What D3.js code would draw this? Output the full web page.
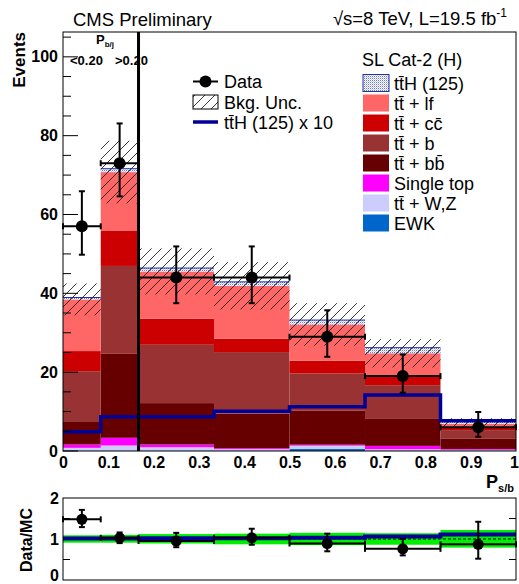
<!DOCTYPE html>
<html>
<head>
<meta charset="utf-8">
<script src="https://cdn.jsdelivr.net/npm/d3@7/dist/d3.min.js"></script>
<style>
  body { margin: 0; background: #fff; }
  svg text { font-family: "Liberation Sans", Arial, Helvetica, sans-serif; }
</style>
</head>
<body>
<svg id="chart" width="519" height="584"></svg>
<script>
// ---------------- data ----------------
const binEdges = [0, 0.0833, 0.1667, 0.3333, 0.5, 0.6667, 0.8333, 1.0];
// stacked backgrounds (bottom to top)
const ewk       = [0.1, 0.1, 0.1, 0.1, 0.5, 0.1, 0.1];
const ttVZ      = [0.7, 1.3, 0.85, 0.35, 0.85, 0.35, 0.2];
const singleTop = [0.85, 1.95, 0.7, 0.25, 0.25, 0.85, 0.2];
const ttbb      = [5.9, 21.3, 10.5, 8.8, 8.6, 7.0, 2.7];
const ttb       = [12.7, 22.3, 14.8, 15.6, 9.5, 8.4, 2.1];
const ttcc      = [5.1, 9.0, 6.6, 3.4, 3.2, 2.1, 0.9];
const ttlf      = [13.1, 14.8, 12.0, 13.4, 9.2, 6.0, 0.7];
const ttH       = [0.49, 0.87, 0.87, 1.01, 1.12, 1.42, 0.77];
const ttHx10    = [4.9, 8.7, 8.7, 10.1, 11.2, 14.2, 7.7];
// background uncertainty band (lower / upper edges)
const uncDn = [34.4, 62.8, 39.7, 35.9, 26.7, 21.2, 5.5];
const uncUp = [42.5, 78.7, 51.4, 47.9, 37.5, 28.4, 8.3];
// data
const dataVal = [57, 73, 44, 44, 29, 19, 6];
const dataHi  = [65.9, 83.1, 51.9, 51.9, 35.7, 24.5, 9.9];
const dataLo  = [49.8, 64.6, 37.5, 37.5, 23.9, 14.8, 3.6];
// ratio panel
const ratioVal = [1.48, 1.03, 0.95, 1.03, 0.89, 0.76, 0.87];
const ratioHi  = [1.71, 1.16, 1.15, 1.25, 1.13, 1.00, 1.42];
const ratioLo  = [1.29, 0.90, 0.80, 0.86, 0.70, 0.60, 0.52];
const sbRatio  = [1.01, 1.01, 1.02, 1.02, 1.03, 1.06, 1.11];
const bandLo   = [0.91, 0.91, 0.89, 0.87, 0.85, 0.86, 0.79];
const bandHi   = [1.09, 1.10, 1.12, 1.13, 1.15, 1.14, 1.22];
// ticks
const xTickLabels = ["0", "0.1", "0.2", "0.3", "0.4", "0.5", "0.6", "0.7", "0.8", "0.9", "1"];
const xTickValues = [0, 0.1, 0.2, 0.3, 0.4, 0.5, 0.6, 0.7, 0.8, 0.9, 1];
const yTicks = [0, 20, 40, 60, 80, 100];
const rTicks = [0, 1, 2];

const layers = [
  {name: "EWK", vals: ewk, color: "#0066cc"},
  {name: "ttVZ", vals: ttVZ, color: "#ccccff"},
  {name: "Single top", vals: singleTop, color: "#ff00ff"},
  {name: "ttbb", vals: ttbb, color: "#660000"},
  {name: "ttb", vals: ttb, color: "#993333"},
  {name: "ttcc", vals: ttcc, color: "#cc0000"},
  {name: "ttlf", vals: ttlf, color: "#ff6666"},
  {name: "ttH", vals: ttH, color: "url(#dots)"}
];

// ---------------- setup ----------------
const svg = d3.select("#chart");
svg.append("rect").attr("width", 519).attr("height", 584).attr("fill", "#fff");
const defs = svg.append("defs");
const hatch = defs.append("pattern").attr("id", "hatch").attr("patternUnits", "userSpaceOnUse")
  .attr("width", 10).attr("height", 10);
hatch.append("path").attr("d", "M0,10 L10,0 M-1,1 L1,-1 M9,11 L11,9")
  .attr("stroke", "#222").attr("stroke-width", 0.9);
const dots = defs.append("pattern").attr("id", "dots").attr("patternUnits", "userSpaceOnUse")
  .attr("width", 2).attr("height", 2);
dots.append("rect").attr("width", 2).attr("height", 2).attr("fill", "#ffffff");
dots.append("rect").attr("width", 1).attr("height", 1).attr("fill", "#6677cc");
dots.append("rect").attr("x", 1).attr("y", 1).attr("width", 1).attr("height", 1).attr("fill", "#c4c8ee");

const L = 63, R = 516, T = 32, B = 451;
const x = d3.scaleLinear().domain([0, 1]).range([L, R]);
const y = d3.scaleLinear().domain([0, 106.3]).range([B, T]);
const RT = 498, RB = 580;
const yr = d3.scaleLinear().domain([0, 2]).range([RB, RT]);

const bins = d3.range(dataVal.length).map(i => ({i, x0: binEdges[i], x1: binEdges[i + 1], xc: (binEdges[i] + binEdges[i + 1]) / 2}));

const main = svg.append("g");
main.append("defs").append("clipPath").attr("id", "clipMain")
  .append("rect").attr("x", L).attr("y", T).attr("width", R - L).attr("height", B - T);
const plot = main.append("g").attr("clip-path", "url(#clipMain)");

// stack
const cum = bins.map(() => 0);
layers.forEach(layer => {
  plot.append("g").selectAll("rect").data(bins).join("rect")
    .attr("x", d => x(d.x0))
    .attr("width", d => x(d.x1) - x(d.x0))
    .attr("y", d => y(cum[d.i] + layer.vals[d.i]))
    .attr("height", d => y(cum[d.i]) - y(cum[d.i] + layer.vals[d.i]))
    .attr("fill", layer.color);
  if (layer.name === "ttH") {
    plot.append("g").selectAll("line").data(bins).join("line")
      .attr("x1", d => x(d.x0)).attr("x2", d => x(d.x1))
      .attr("y1", d => y(cum[d.i] + layer.vals[d.i])).attr("y2", d => y(cum[d.i] + layer.vals[d.i]))
      .attr("stroke", "#2233aa").attr("stroke-width", 1);
  }
  bins.forEach(d => { cum[d.i] += layer.vals[d.i]; });
});

// uncertainty hatch
plot.append("g").selectAll("rect").data(bins).join("rect")
  .attr("x", d => x(d.x0)).attr("width", d => x(d.x1) - x(d.x0))
  .attr("y", d => y(uncUp[d.i])).attr("height", d => y(uncDn[d.i]) - y(uncUp[d.i]))
  .attr("fill", "url(#hatch)");

// ttH x10 step line
const stepPts = [];
bins.forEach(d => { stepPts.push([d.x0, ttHx10[d.i]]); stepPts.push([d.x1, ttHx10[d.i]]); });
plot.append("path").attr("d", d3.line().x(p => x(p[0])).y(p => y(p[1]))(stepPts))
  .attr("fill", "none").attr("stroke", "#000099").attr("stroke-width", 3.5);

// separator line
main.append("line").attr("x1", x(0.1667)).attr("x2", x(0.1667)).attr("y1", T).attr("y2", B)
  .attr("stroke", "#000").attr("stroke-width", 3);

// data points
function drawPoints(g, vals, lo, hi, ys, r) {
  const cap = 3;
  const gp = g.append("g").attr("stroke", "#000").attr("stroke-width", 2);
  bins.forEach(d => {
    const cx = x(d.xc), cy = ys(vals[d.i]);
    gp.append("line").attr("x1", x(d.x0)).attr("x2", x(d.x1)).attr("y1", cy).attr("y2", cy);
    gp.append("line").attr("x1", x(d.x0)).attr("x2", x(d.x0)).attr("y1", cy - cap).attr("y2", cy + cap);
    gp.append("line").attr("x1", x(d.x1)).attr("x2", x(d.x1)).attr("y1", cy - cap).attr("y2", cy + cap);
    gp.append("line").attr("x1", cx).attr("x2", cx).attr("y1", ys(hi[d.i])).attr("y2", ys(lo[d.i]));
    gp.append("line").attr("x1", cx - cap).attr("x2", cx + cap).attr("y1", ys(hi[d.i])).attr("y2", ys(hi[d.i]));
    gp.append("line").attr("x1", cx - cap).attr("x2", cx + cap).attr("y1", ys(lo[d.i])).attr("y2", ys(lo[d.i]));
    g.append("circle").attr("cx", cx).attr("cy", cy).attr("r", r).attr("fill", "#000");
  });
}
drawPoints(main, dataVal, dataLo, dataHi, y, 6);

// frame
main.append("rect").attr("x", L).attr("y", T).attr("width", R - L).attr("height", B - T)
  .attr("fill", "none").attr("stroke", "#000").attr("stroke-width", 1);

// y axis ticks
const yAxis = d3.axisLeft(y).tickValues(yTicks).tickSize(0).tickPadding(5).tickFormat(d3.format("d"));
const gy = main.append("g").attr("transform", `translate(${L},0)`).call(yAxis);
gy.select(".domain").remove();
gy.selectAll("text").attr("font-size", 16).attr("font-weight", "bold").attr("fill", "#000");
d3.range(0, 106, 5).forEach(v => {
  const len = v % 20 === 0 ? 15 : 8;
  main.append("line").attr("x1", L).attr("x2", L + len).attr("y1", y(v)).attr("y2", y(v))
    .attr("stroke", "#000").attr("stroke-width", 1);
});
// x axis labels
const xAxis = d3.axisBottom(x).tickValues(xTickValues).tickSize(0).tickPadding(6)
  .tickFormat((d, i) => xTickLabels[i]);
const gx = main.append("g").attr("transform", `translate(0,${B})`).call(xAxis);
gx.select(".domain").remove();
gx.selectAll("text").attr("font-size", 16).attr("font-weight", "bold").attr("fill", "#000")
  .attr("dx", (d, i) => i === xTickValues.length - 1 ? -2 : 0);

// titles
svg.append("text").attr("x", 73).attr("y", 26).attr("font-size", 18.5).text("CMS Preliminary");
const lumi = svg.append("text").attr("x", 507).attr("y", 25).attr("font-size", 18.5).attr("text-anchor", "end");
lumi.append("tspan").text("\u221As=8 TeV, L=19.5 fb");
lumi.append("tspan").attr("font-size", 12).attr("dy", -8).text("-1");

svg.append("text").attr("transform", "translate(25,32) rotate(-90)").attr("text-anchor", "end")
  .attr("font-size", 17).attr("font-weight", "bold").text("Events");

// P_b/j annotation
const pbj = svg.append("text").attr("x", 96).attr("y", 44).attr("font-size", 13).attr("font-weight", "bold");
pbj.append("tspan").text("P");
pbj.append("tspan").attr("font-size", 8).attr("dy", 3).text("b/j");
svg.append("text").attr("x", 70).attr("y", 65).attr("font-size", 13).attr("font-weight", "bold").text("<0.20");
svg.append("text").attr("x", 115).attr("y", 65).attr("font-size", 13).attr("font-weight", "bold").text(">0.20");

// x axis title
const pxt = svg.append("text").attr("x", 486).attr("y", 488).attr("font-size", 18).attr("font-weight", "bold");
pxt.append("tspan").text("P");
pxt.append("tspan").attr("font-size", 11).attr("dy", 4).text("s/b");

// ---------------- legends ----------------
const tbar = "t\u0304";
const leg1 = svg.append("g");
const legFont = 18;
// Data
leg1.append("line").attr("x1", 193).attr("x2", 218).attr("y1", 81.5).attr("y2", 81.5).attr("stroke", "#000").attr("stroke-width", 2);
leg1.append("circle").attr("cx", 205.5).attr("cy", 81.5).attr("r", 6).attr("fill", "#000");
leg1.append("text").attr("x", 224).attr("y", 88).attr("font-size", legFont).text("Data");
// Bkg unc
leg1.append("rect").attr("x", 193).attr("y", 95).attr("width", 25).attr("height", 14)
  .attr("fill", "url(#hatch)").attr("stroke", "#000").attr("stroke-width", 1);
leg1.append("text").attr("x", 224).attr("y", 108.5).attr("font-size", legFont).text("Bkg. Unc.");
// ttH x10
leg1.append("line").attr("x1", 193).attr("x2", 218).attr("y1", 122).attr("y2", 122).attr("stroke", "#000099").attr("stroke-width", 3.5);
leg1.append("text").attr("x", 224).attr("y", 129).attr("font-size", legFont).text("t" + tbar + "H (125) x 10");

const leg2 = svg.append("g");
leg2.append("text").attr("x", 362).attr("y", 66).attr("font-size", legFont).text("SL Cat-2 (H)");
const legItems = [
  {label: "t" + tbar + "H (125)", color: "url(#dots)", stroke: "#2233aa"},
  {label: "t" + tbar + " + lf", color: "#ff6666"},
  {label: "t" + tbar + " + cc\u0304", color: "#cc0000"},
  {label: "t" + tbar + " + b", color: "#993333"},
  {label: "t" + tbar + " + bb\u0304", color: "#660000"},
  {label: "Single top", color: "#ff00ff"},
  {label: "t" + tbar + " + W,Z", color: "#ccccff"},
  {label: "EWK", color: "#0066cc"}
];
legItems.forEach((it, k) => {
  const cy = 83 + k * 20;
  leg2.append("rect").attr("x", 363).attr("y", cy - 8.5).attr("width", 26).attr("height", 17)
    .attr("fill", it.color).attr("stroke", it.stroke || "none").attr("stroke-width", 1);
  leg2.append("text").attr("x", 394).attr("y", cy + 7).attr("font-size", legFont).text(it.label);
});

// ---------------- ratio panel ----------------
const rp = svg.append("g");
rp.append("defs").append("clipPath").attr("id", "clipRatio")
  .append("rect").attr("x", L).attr("y", RT).attr("width", R - L).attr("height", RB - RT);
const rplot = rp.append("g").attr("clip-path", "url(#clipRatio)");
rplot.append("g").selectAll("rect").data(bins).join("rect")
  .attr("x", d => x(d.x0)).attr("width", d => x(d.x1) - x(d.x0))
  .attr("y", d => yr(bandHi[d.i])).attr("height", d => yr(bandLo[d.i]) - yr(bandHi[d.i]))
  .attr("fill", "#00ee00");
rplot.append("line").attr("x1", L).attr("x2", R).attr("y1", yr(1)).attr("y2", yr(1))
  .attr("stroke", "#000").attr("stroke-width", 1).attr("stroke-dasharray", "3,2");
const sbPts = [];
bins.forEach(d => { sbPts.push([d.x0, sbRatio[d.i]]); sbPts.push([d.x1, sbRatio[d.i]]); });
rplot.append("path").attr("d", d3.line().x(p => x(p[0])).y(p => yr(p[1]))(sbPts))
  .attr("fill", "none").attr("stroke", "#000099").attr("stroke-width", 4);
drawPoints(rp, ratioVal, ratioLo, ratioHi, yr, 5.5);
rp.append("rect").attr("x", L).attr("y", RT).attr("width", R - L).attr("height", RB - RT)
  .attr("fill", "none").attr("stroke", "#000").attr("stroke-width", 1);
[0.5, 1.5].forEach(v => {
  rp.append("line").attr("x1", L).attr("x2", L + 7).attr("y1", yr(v)).attr("y2", yr(v)).attr("stroke", "#000");
  rp.append("line").attr("x1", R - 7).attr("x2", R).attr("y1", yr(v)).attr("y2", yr(v)).attr("stroke", "#000");
});
const ryAxis = d3.axisLeft(yr).tickValues(rTicks).tickSize(0).tickPadding(4).tickFormat(d3.format("d"));
const gry = rp.append("g").attr("transform", `translate(${L},0)`).call(ryAxis);
gry.select(".domain").remove();
gry.selectAll("text").attr("font-size", 16).attr("font-weight", "bold").attr("fill", "#000")
  .attr("dy", d => d === 0 ? "0.05em" : "0.32em");
svg.append("text").attr("transform", "translate(32,540) rotate(-90)").attr("text-anchor", "middle")
  .attr("font-size", 16).attr("font-weight", "bold").text("Data/MC");
</script>
</body>
</html>
